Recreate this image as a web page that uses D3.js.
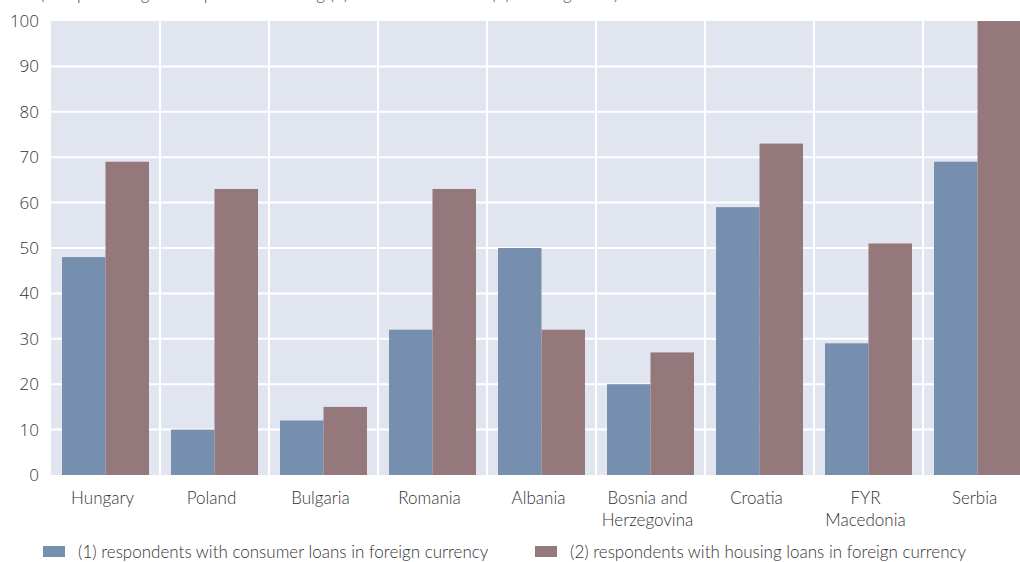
<!DOCTYPE html>
<html>
<head>
<meta charset="utf-8">
<script src="https://cdn.jsdelivr.net/npm/d3@7"></script>
<style>
  html, body { margin: 0; padding: 0; background: #fff; }
  svg { display: block; }
</style>
</head>
<body>
<svg id="chart" width="1020" height="562"></svg>
<script>
// Share of respondents holding loans in foreign currency, by country
const countries = ["Hungary", "Poland", "Bulgaria", "Romania", "Albania",
  "Bosnia and Herzegovina", "Croatia", "FYR Macedonia", "Serbia"];
const countryLines = [["Hungary"], ["Poland"], ["Bulgaria"], ["Romania"], ["Albania"],
  ["Bosnia and", "Herzegovina"], ["Croatia"], ["FYR", "Macedonia"], ["Serbia"]];
const consumerLoans = [48, 10, 12, 32, 50, 20, 59, 29, 69];
const housingLoans = [69, 63, 15, 63, 32, 27, 73, 51, 100];
const seriesNames = ["(1) respondents with consumer loans in foreign currency",
  "(2) respondents with housing loans in foreign currency"];
const yTicks = [0, 10, 20, 30, 40, 50, 60, 70, 80, 90, 100];
const subtitle = "(as a percentage of respondents having (1) consumer loans or (2) housing loans)";

const colors = ["#768fae", "#95787c"];
const textFont = "Lato, 'Open Sans', sans-serif";
const svg = d3.select("#chart");
const W = 1020, H = 562;
const plotLeft = 51, plotRight = 1032, plotTop = 21, plotBottom = 475;

const x = d3.scaleBand().domain(countries).range([plotLeft, plotRight]);
const pad = 11;
const inner = d3.scaleBand().domain([0, 1]).range([pad, x.bandwidth() - pad]);
const y = d3.scaleLinear().domain([0, 100]).range([plotBottom, plotTop]);

// subtitle, running off the top edge
svg.append("text").attr("x", 40).attr("y", 0)
  .attr("font-family", textFont).attr("font-weight", 300)
  .attr("font-size", 17).attr("fill", "#444").text(subtitle);

// plot background
svg.append("rect").attr("x", plotLeft).attr("y", y(100))
  .attr("width", plotRight - plotLeft).attr("height", y(0) - y(100))
  .attr("fill", "#e1e5f0");

// grid
const grid = svg.append("g").attr("stroke", "#fff").attr("stroke-width", 2);
grid.selectAll("line.h").data(yTicks.filter(d => d > 0 && d < 100)).join("line")
  .attr("x1", plotLeft).attr("x2", plotRight).attr("y1", d => y(d)).attr("y2", d => y(d));
grid.selectAll("line.v").data(countries.slice(1)).join("line")
  .attr("x1", d => x(d)).attr("x2", d => x(d)).attr("y1", y(100)).attr("y2", y(0));

// bars
const groups = svg.append("g").selectAll("g").data(countries).join("g")
  .attr("transform", d => `translate(${x(d)},0)`);
groups.selectAll("rect").data((d, i) => [consumerLoans[i], housingLoans[i]]).join("rect")
  .attr("x", (d, j) => inner(j)).attr("width", inner.bandwidth())
  .attr("y", d => y(d)).attr("height", d => y(0) - y(d))
  .attr("fill", (d, j) => colors[j]);

// y axis
const yAxis = svg.append("g").attr("transform", `translate(39,0)`)
  .call(d3.axisLeft(y).tickValues(yTicks).tickSize(0).tickPadding(0));
yAxis.select(".domain").remove();
yAxis.selectAll("text").attr("font-family", "'Open Sans', sans-serif").attr("font-weight", 300)
  .attr("font-size", 17).attr("fill", "#333");

// x axis labels
const xAxis = svg.append("g").attr("transform", `translate(0,${y(0)})`)
  .call(d3.axisBottom(x).tickSize(0).tickFormat(() => ""));
xAxis.select(".domain").remove();
xAxis.selectAll(".tick").each(function (d, i) {
  const t = d3.select(this).select("text").attr("y", 0).attr("dy", null);
  countryLines[i].forEach((ln, k) => {
    t.append("tspan").attr("x", 0).attr("y", 29 + k * 22).text(ln);
  });
});
xAxis.selectAll(".tick").attr("transform", d => `translate(${x(d) + x.bandwidth() / 2 - 3},0)`);
xAxis.selectAll("text").attr("font-size", 17).attr("fill", "#333")
  .attr("font-family", textFont).attr("font-weight", 300);

// legend
const legendX = [43, 535];
const legend = svg.append("g").selectAll("g").data(seriesNames).join("g")
  .attr("transform", (d, i) => `translate(${legendX[i]},546)`);
legend.append("rect").attr("width", 22).attr("height", 11).attr("fill", (d, i) => colors[i]);
legend.append("text").attr("x", 35).attr("y", 12)
  .attr("font-family", textFont).attr("font-weight", 300)
  .attr("font-size", 17).attr("fill", "#333").text(d => d);
</script>
</body>
</html>
